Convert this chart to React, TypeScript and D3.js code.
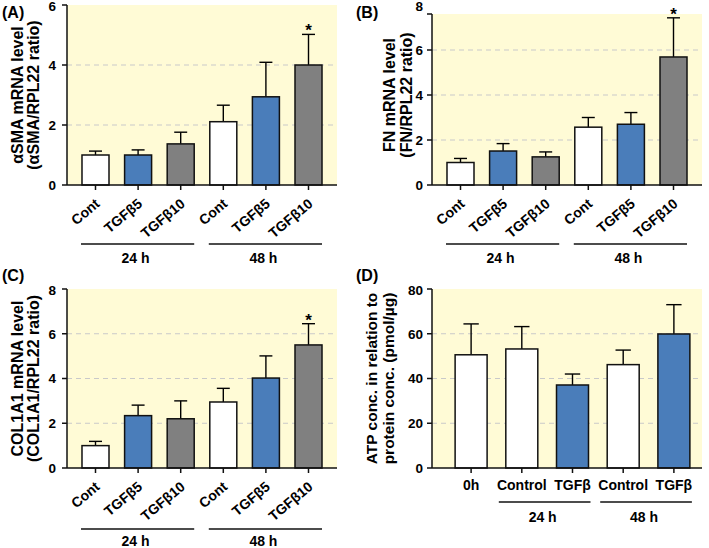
import React from "react";
import * as d3 from "d3";

// ---------- DATA ----------
const mrnaCategories = ["Cont", "TGFβ5", "TGFβ10", "Cont", "TGFβ5", "TGFβ10"];
const mrnaGroups = ["24 h", "48 h"];
const smaMean = [1.0, 1.0, 1.37, 2.11, 2.94, 4.0];
const smaSem = [0.13, 0.17, 0.39, 0.55, 1.15, 1.02];
const fnMean = [1.0, 1.51, 1.25, 2.57, 2.7, 5.69];
const fnSem = [0.18, 0.33, 0.22, 0.43, 0.52, 1.74];
const colMean = [1.0, 2.34, 2.2, 2.95, 4.02, 5.5];
const colSem = [0.19, 0.47, 0.8, 0.61, 0.99, 0.95];
const mrnaStars = [false, false, false, false, false, true];

const atpCategories = ["0h", "Control", "TGFβ", "Control", "TGFβ"];
const atpGroups = ["24 h", "48 h"];
const atpMean = [50.6, 53.2, 37.1, 46.2, 59.9];
const atpSem = [13.8, 10.0, 4.9, 6.5, 13.1];

const smaTicks = [0, 2, 4, 6];
const fnTicks = [0, 2, 4, 6, 8];
const colTicks = [0, 2, 4, 6, 8];
const atpTicks = [0, 20, 40, 60, 80];

// ---------- STYLE ----------
const FONT = "'Liberation Sans', Arial, Helvetica, sans-serif";
const BG = "#FFFBD6";
const WHITE = "#FFFFFF";
const BLUE = "#4A7DBA";
const GRAY = "#808080";
const mrnaColors = [WHITE, BLUE, GRAY, WHITE, BLUE, GRAY];
const atpColors = [WHITE, WHITE, BLUE, WHITE, BLUE];

type PanelProps = {
  letter: string;
  letterX: number;
  letterY: number;
  x0: number;
  x1: number;
  yTop: number;
  yBottom: number;
  bgTop?: number;
  yMax: number;
  ticks: number[];
  means: number[];
  sems: number[];
  colors: string[];
  categories: string[];
  stars: boolean[];
  titles: string[];
  titleXs: number[];
  titleSize: number;
  tickLabelGap: number;
  rotated: boolean;
  groups: string[];
  groupIdx: number[][];
  groupLineDy: number;
  groupTextDy: number;
  groupPad: [number, number];
  xRange: [number, number];
  paddingInner: number;
  paddingOuter: number;
};

function Panel(p: PanelProps) {
  const y = d3.scaleLinear().domain([0, p.yMax]).range([p.yBottom, p.yTop]);
  const idx = p.categories.map((_, i) => String(i));
  const x = d3
    .scaleBand<string>()
    .domain(idx)
    .range(p.xRange)
    .paddingInner(p.paddingInner)
    .paddingOuter(p.paddingOuter);
  const bw = x.bandwidth();
  const bgTop = p.bgTop ?? p.yTop;
  const midY = (p.yTop + p.yBottom) / 2;
  const capW = bw * 0.48;
  return (
    <g fontFamily={FONT} fontWeight="bold">
      <text x={p.letterX} y={p.letterY} fontSize={16}>
        {p.letter}
      </text>
      <rect x={p.x0} y={bgTop} width={p.x1 - p.x0} height={p.yBottom - bgTop} fill={BG} />
      {p.ticks
        .filter((t) => t > 0 && y(t) > bgTop + 1)
        .map((t) => (
          <line
            key={"g" + t}
            x1={p.x0}
            x2={p.x1}
            y1={y(t)}
            y2={y(t)}
            stroke="#C9C9C9"
            strokeWidth={1.2}
            strokeDasharray="5,4"
          />
        ))}
      {p.means.map((m, i) => {
        const bx = x(String(i))!;
        const cx = bx + bw / 2;
        const top = y(m);
        const et = y(m + p.sems[i]);
        return (
          <g key={"b" + i}>
            <line x1={cx} x2={cx} y1={top} y2={et} stroke="#000" strokeWidth={1.4} />
            <line x1={cx - capW / 2} x2={cx + capW / 2} y1={et} y2={et} stroke="#000" strokeWidth={1.4} />
            <rect
              x={bx}
              y={top}
              width={bw}
              height={p.yBottom - top}
              fill={p.colors[i]}
              stroke="#111"
              strokeWidth={1.5}
            />
            {p.stars[i] && (
              <text x={cx} y={et + 2} fontSize={17} textAnchor="middle">
                *
              </text>
            )}
          </g>
        );
      })}
      {/* y axis */}
      <line x1={p.x0} x2={p.x0} y1={p.yBottom} y2={bgTop} stroke="#111" strokeWidth={1.5} />
      {p.ticks.map((t) => {
        const ty = Math.max(y(t), bgTop);
        return (
          <g key={"t" + t}>
            <line x1={p.x0 - 5} x2={p.x0} y1={ty} y2={ty} stroke="#111" strokeWidth={1.5} />
            <text
              x={p.x0 - p.tickLabelGap}
              y={Math.max(y(t), p.yTop + 1.5)}
              dy="0.36em"
              fontSize={13.5}
              textAnchor="end"
            >
              {t}
            </text>
          </g>
        );
      })}
      {/* x axis */}
      <line x1={p.x0} x2={p.x1} y1={p.yBottom} y2={p.yBottom} stroke="#111" strokeWidth={1.5} />
      {p.categories.map((c, i) => {
        const cx = x(String(i))! + bw / 2;
        return (
          <g key={"x" + i}>
            <line x1={cx} x2={cx} y1={p.yBottom} y2={p.yBottom + 5} stroke="#111" strokeWidth={1.5} />
            {p.rotated ? (
              <text
                transform={`translate(${cx + 2},${p.yBottom + 16.5}) rotate(-40)`}
                fontSize={14}
                textAnchor="end"
                dy="0.35em"
              >
                {c}
              </text>
            ) : (
              <text x={cx} y={p.yBottom + 22} fontSize={14} textAnchor="middle">
                {c}
              </text>
            )}
          </g>
        );
      })}
      {p.groups.map((g, gi) => {
        const ids = p.groupIdx[gi];
        const gx0 = x(String(ids[0]))! - p.groupPad[0];
        const gx1 = x(String(ids[ids.length - 1]))! + bw + p.groupPad[1];
        return (
          <g key={"grp" + gi}>
            <line
              x1={gx0}
              x2={gx1}
              y1={p.yBottom + p.groupLineDy}
              y2={p.yBottom + p.groupLineDy}
              stroke="#111"
              strokeWidth={1.5}
            />
            <text x={(gx0 + gx1) / 2 - 2} y={p.yBottom + p.groupTextDy} fontSize={14} textAnchor="middle">
              {g}
            </text>
          </g>
        );
      })}
      {p.titles.map((t, ti) => (
        <text
          key={"ttl" + ti}
          transform={`translate(${p.titleXs[ti]},${midY}) rotate(-90)`}
          dy="0.35em"
          fontSize={p.titleSize}
          textAnchor="middle"
        >
          {t}
        </text>
      ))}
    </g>
  );
}

export default function App() {
  const mrnaCommon = {
    categories: mrnaCategories,
    colors: mrnaColors,
    stars: mrnaStars,
    rotated: true,
    groups: mrnaGroups,
    groupIdx: [
      [0, 1, 2],
      [3, 4, 5],
    ],
    groupLineDy: 59,
    groupTextDy: 78,
    groupPad: [1, 0] as [number, number],
    paddingInner: 0.366,
    paddingOuter: 0.352,
    titleSize: 16,
  };
  return (
    <div style={{ position: "absolute", left: 0, top: 0 }}>
      <svg width={709} height={548} style={{ display: "block", background: "#fff" }}>
        <Panel
          {...mrnaCommon}
          letter="(A)"
          letterX={2}
          letterY={18}
          x0={67}
          x1={337}
          xRange={[67, 337]}
          yTop={5}
          yBottom={185}
          yMax={6}
          ticks={smaTicks}
          means={smaMean}
          sems={smaSem}
          titles={["αSMA mRNA level", "(αSMA/RPL22 ratio)"]}
          titleXs={[17, 33]}
          tickLabelGap={11}
        />
        <Panel
          {...mrnaCommon}
          letter="(B)"
          letterX={356}
          letterY={18}
          x0={432}
          x1={702}
          xRange={[432, 702]}
          yTop={5}
          bgTop={14}
          yBottom={185}
          yMax={8}
          ticks={fnTicks}
          means={fnMean}
          sems={fnSem}
          titles={["FN mRNA level", "(FN/RPL22 ratio)"]}
          titleXs={[389, 406]}
          tickLabelGap={9}
        />
        <Panel
          {...mrnaCommon}
          groupLineDy={61}
          groupTextDy={78}
          letter="(C)"
          letterX={2}
          letterY={281}
          x0={67}
          x1={337}
          xRange={[67, 337]}
          yTop={289}
          yBottom={468}
          yMax={8}
          ticks={colTicks}
          means={colMean}
          sems={colSem}
          titles={["COL1A1 mRNA level", "(COL1A1/RPL22 ratio)"]}
          titleXs={[17, 33]}
          tickLabelGap={11}
        />
        <Panel
          letter="(D)"
          letterX={356}
          letterY={281}
          x0={432}
          x1={702}
          xRange={[443, 702]}
          paddingInner={0.369}
          paddingOuter={0.239}
          yTop={289}
          yBottom={468}
          yMax={80}
          ticks={atpTicks}
          means={atpMean}
          sems={atpSem}
          colors={atpColors}
          categories={atpCategories}
          stars={[false, false, false, false, false]}
          titles={["ATP conc. in relation to", "protein conc. (pmol/µg)"]}
          titleXs={[372, 389]}
          titleSize={15.5}
          tickLabelGap={9}
          rotated={false}
          groups={atpGroups}
          groupIdx={[
            [1, 2],
            [3, 4],
          ]}
          groupLineDy={34}
          groupTextDy={54}
          groupPad={[7, 2]}
        />
      </svg>
    </div>
  );
}
